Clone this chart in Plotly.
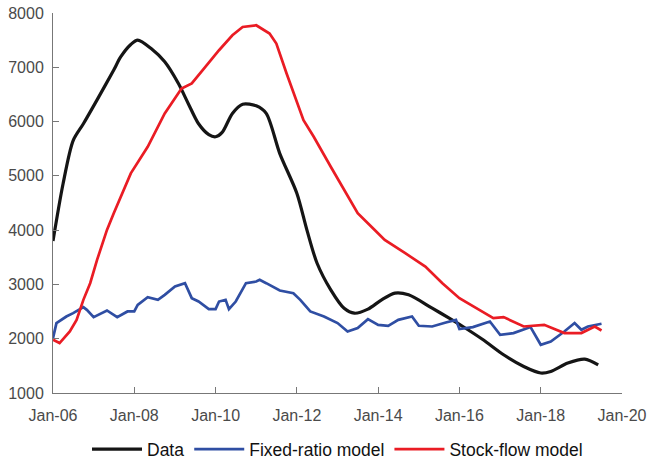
import plotly.graph_objects as go

# Observed series ("Data")
data_dates = ["2006-01", "2006-04", "2006-07", "2006-10", "2007-02", "2007-07", "2007-09",
              "2007-12", "2008-02", "2008-06", "2008-10", "2009-02", "2009-05", "2009-08",
              "2009-11", "2010-01", "2010-03", "2010-06", "2010-09", "2011-01", "2011-04",
              "2011-08", "2012-01", "2012-04", "2012-07", "2012-11", "2013-03", "2013-06",
              "2013-10", "2014-02", "2014-06", "2014-10", "2015-05", "2015-10", "2016-02",
              "2016-08", "2017-02", "2017-08", "2018-01", "2018-04", "2018-09", "2019-02",
              "2019-06"]
data_values = [3800, 4850, 5650, 5960, 6400, 6950, 7190,
               7420, 7500, 7345, 7100, 6700, 6330, 5960,
               5760, 5720, 5800, 6150, 6320, 6290, 6150,
               5410, 4680, 4000, 3390, 2900, 2560, 2470,
               2545, 2716, 2840, 2808, 2563, 2379, 2225,
               1980, 1704, 1489, 1368, 1397, 1552, 1625,
               1520]

# Fixed-ratio model
fixed_dates = ["2006-01", "2006-02", "2006-05", "2006-07", "2006-10", "2006-11", "2007-01",
               "2007-03", "2007-05", "2007-08", "2007-11", "2008-01", "2008-02", "2008-05",
               "2008-08", "2008-10", "2009-01", "2009-04", "2009-06", "2009-08", "2009-11",
               "2010-01", "2010-02", "2010-04", "2010-05", "2010-07", "2010-10", "2011-01",
               "2011-02", "2011-04", "2011-08", "2011-12", "2012-02", "2012-05", "2012-09",
               "2013-01", "2013-04", "2013-07", "2013-10", "2014-01", "2014-04", "2014-07",
               "2014-11", "2015-01", "2015-05", "2015-09", "2015-12", "2016-01", "2016-05",
               "2016-10", "2017-01", "2017-05", "2017-10", "2018-01", "2018-04", "2018-08",
               "2018-11", "2019-01", "2019-03", "2019-07"]
fixed_values = [2011, 2288, 2409, 2471, 2582, 2532, 2398,
                2459, 2520, 2398, 2502, 2502, 2624, 2766,
                2716, 2808, 2961, 3023, 2747, 2685, 2545,
                2545, 2685, 2716, 2545, 2685, 3023, 3053,
                3084, 3023, 2888, 2839, 2716, 2502, 2409,
                2288, 2133, 2196, 2361, 2256, 2238, 2348,
                2409, 2238, 2225, 2299, 2348, 2177, 2214,
                2317, 2072, 2104, 2214, 1888, 1949, 2133,
                2288, 2164, 2225, 2275]

# Stock-flow model
stock_dates = ["2006-01", "2006-03", "2006-06", "2006-08", "2006-10", "2006-12", "2007-02",
               "2007-05", "2007-07", "2007-12", "2008-05", "2008-10", "2009-03", "2009-06",
               "2009-10", "2010-02", "2010-06", "2010-09", "2011-01", "2011-05", "2011-07",
               "2011-10", "2012-03", "2012-06", "2012-11", "2013-04", "2013-07", "2013-12",
               "2014-03", "2014-09", "2015-03", "2015-08", "2016-01", "2016-06", "2016-11",
               "2017-02", "2017-08", "2018-02", "2018-08", "2019-01", "2019-05", "2019-07"]
stock_values = [1980, 1920, 2133, 2348, 2716, 3023, 3452,
                4004, 4311, 5046, 5535, 6150, 6610, 6702,
                7007, 7314, 7590, 7743, 7774, 7621, 7437,
                6886, 6027, 5720, 5168, 4616, 4311, 4004,
                3820, 3575, 3329, 3023, 2747, 2563, 2379,
                2398, 2225, 2256, 2104, 2104, 2225, 2152]

fig = go.Figure()
fig.add_trace(go.Scatter(x=data_dates, y=data_values, mode="lines", name="Data",
                         line=dict(color="#151515", width=3.2, shape="spline", smoothing=0.8)))
fig.add_trace(go.Scatter(x=fixed_dates, y=fixed_values, mode="lines", name="Fixed-ratio model",
                         line=dict(color="#2f4ea3", width=2.7)))
fig.add_trace(go.Scatter(x=stock_dates, y=stock_values, mode="lines", name="Stock-flow model",
                         line=dict(color="#ea1c24", width=2.7)))

axis_font = dict(family="Liberation Sans, Arial, sans-serif", size=16, color="#4a4a4a")

fig.update_layout(
    width=647, height=464,
    margin=dict(l=53, r=25, t=13, b=71, autoexpand=False),
    paper_bgcolor="white", plot_bgcolor="white",
    showlegend=True,
    legend=dict(orientation="h", x=0.5, xanchor="center", y=-0.148, yanchor="middle",
                font=dict(family="Liberation Sans, Arial, sans-serif", size=17.5, color="#111111"),
                itemwidth=50, tracegroupgap=0),
)
fig.update_xaxes(
    range=["2006-01-01", "2020-01-01"], type="date",
    tickvals=["2006-01-01", "2008-01-01", "2010-01-01", "2012-01-01", "2014-01-01",
              "2016-01-01", "2018-01-01", "2020-01-01"],
    tickformat="%b-%y", ticks="inside", ticklen=6, tickcolor="#777777", tickwidth=1,
    showline=True, linecolor="#777777", linewidth=1, showgrid=False, zeroline=False,
    tickfont=axis_font, ticklabelstandoff=8,
)
fig.update_yaxes(
    range=[1000, 8000], dtick=1000, tick0=1000,
    ticks="inside", ticklen=6, tickcolor="#777777", tickwidth=1,
    showline=True, linecolor="#777777", linewidth=1, showgrid=False, zeroline=False,
    tickfont=axis_font, ticklabelstandoff=5,
)

fig.write_html("out.html")
